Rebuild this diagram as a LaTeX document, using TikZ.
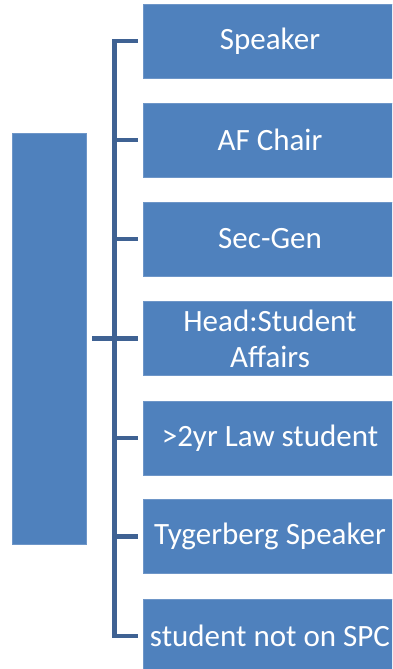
\documentclass[tikz,border=0pt]{standalone}
\usepackage{fontspec}
\setmainfont{Carlito}
\definecolor{boxblue}{RGB}{79,129,189}
\definecolor{boxedge}{RGB}{110,150,200}
\definecolor{linkblue}{RGB}{63,98,147}
\tikzset{
  rolebox/.style={fill=boxblue, draw=boxedge, line width=0.8pt, minimum width=254pt, minimum height=74pt, inner sep=0pt, text=white, align=center, font=\fontsize{31}{36}\selectfont},
  rootbox/.style={fill=boxblue, draw=boxedge, line width=0.8pt, minimum width=74pt, minimum height=411pt, inner sep=0pt},
  link/.style={draw=linkblue, line width=4.5pt}
}
\begin{document}
\begin{tikzpicture}[x=1pt,y=-1pt]
\useasboundingbox (0,0) rectangle (392,669);
\clip (0,0) rectangle (392,669);
\node[rootbox] (root) at (49,338.5) {};
\node[rolebox] (c1) at (270,41) {Speaker};
\node[rolebox] (c2) at (270,140) {AF Chair};
\node[rolebox] (c3) at (270,239) {Sec-Gen};
\node[rolebox] (c4) at (270,338.5) {Head:Student\\Affairs};
\node[rolebox] (c5) at (270,438) {>2yr Law student};
\node[rolebox] (c6) at (270,536.5) {Tygerberg Speaker};
\node[rolebox] (c7) at (270,636) {student not on SPC};
\draw[link] ([xshift=-5pt]c1.west) -- ([xshift=-28pt]c1.west) |- ([xshift=-5pt]c7.west);
\draw[link] ([xshift=6pt]root.east) -- ([xshift=-5pt]c4.west);
\foreach \c in {c2,c3,c5,c6}{
  \draw[link] ([xshift=-5pt]\c.west) -- ([xshift=-30pt]\c.west);
}
\end{tikzpicture}
\end{document}
